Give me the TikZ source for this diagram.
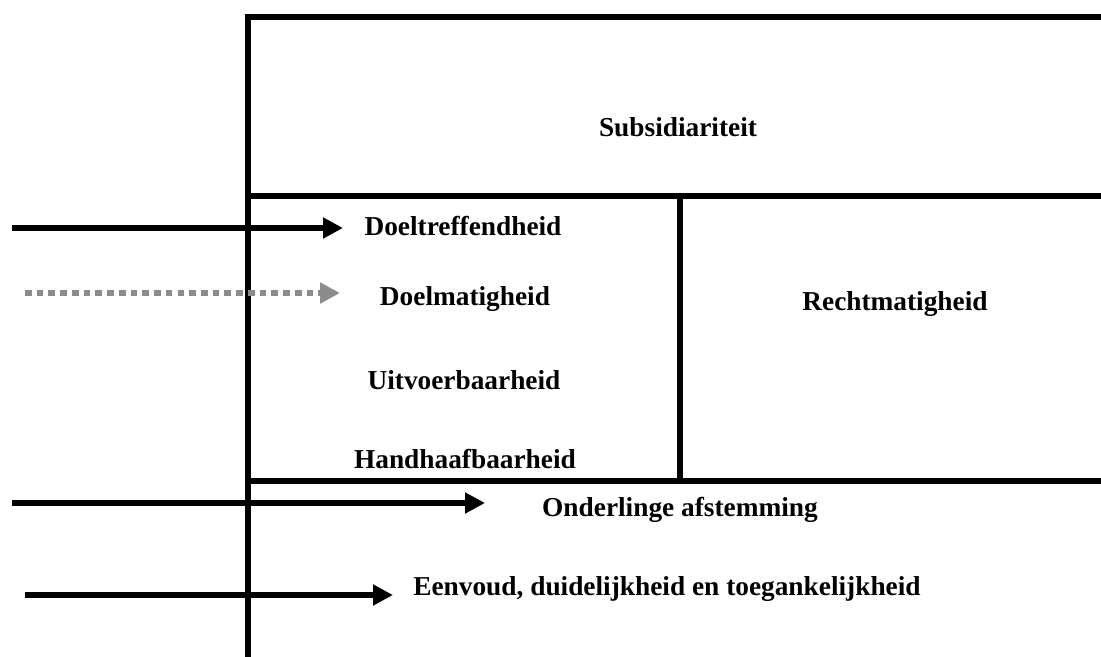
\documentclass[tikz,border=0pt]{standalone}
\usepackage{fontspec}
\setmainfont{Liberation Serif}
\usetikzlibrary{arrows.meta}

\begin{document}
\begin{tikzpicture}[x=0.75pt,y=-0.75pt,line join=miter,>={Triangle[length=15pt,width=15pt]},
  every node/.style={inner sep=1pt,font=\fontsize{20.5}{23}\selectfont\bfseries},
  frame/.style={line width=4.6pt},
  pijl/.style={->,line width=5pt},
  stippel/.style={->,line width=5pt,gray!90,dash pattern=on 5pt off 3.8pt}]
  \useasboundingbox (0,0) rectangle (1101,657);
  % frame
  \draw[frame] (248,15) -- (248,657);
  \draw[frame] (245,17) -- (1101,17);
  \draw[frame] (248,196) -- (1101,196);
  \draw[frame] (680,196) -- (680,481);
  \draw[frame] (248,481) -- (1101,481);
  % labels
  \node (subsid) at (678,127) {Subsidiariteit};
  \node (doeltr) at (463,226) {Doeltreffendheid};
  \node (doelm) at (465,299) {Doelmatigheid};
  \node (uitv) at (464,380) {Uitvoerbaarheid};
  \node (handh) at (465,459) {Handhaafbaarheid};
  \node (recht) at (895,304) {Rechtmatigheid};
  \node (afst) at (680,510) {Onderlinge afstemming};
  \node (eenv) at (667,589) {Eenvoud, duidelijkheid en toegankelijkheid};
  % arrows
  \coordinate (s1) at (12,228);  \coordinate (e1) at (343,228);
  \coordinate (s2) at (25,293);  \coordinate (e2) at (340,293);
  \coordinate (s3) at (12,503);  \coordinate (e3) at (485,503);
  \coordinate (s4) at (25,595);  \coordinate (e4) at (393,595);
  \draw[pijl] (s1) -- (e1);
  \draw[stippel] (s2) -- (e2);
  \draw[pijl] (s3) -- (e3);
  \draw[pijl] (s4) -- (e4);
\end{tikzpicture}
\end{document}
